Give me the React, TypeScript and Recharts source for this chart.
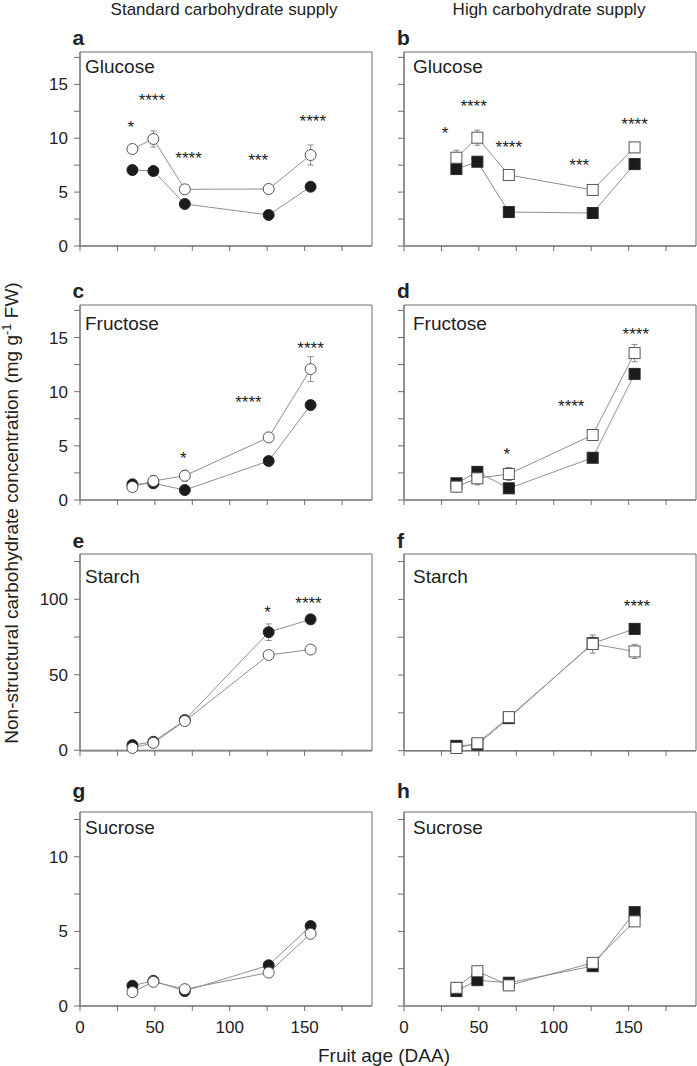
import { ComposedChart, Line, Scatter, XAxis, YAxis, ErrorBar, ReferenceArea } from "recharts";

const FONT = "'Liberation Sans', Arial, Helvetica, sans-serif";

// fruit age (DAA) of the five harvests
const days = [35, 49, 70, 126, 154];

const xTicks = [0, 25, 50, 75, 100, 125, 150, 175];
const sugarTicks = [0, 2.5, 5, 7.5, 10, 12.5, 15, 17.5];
const starchTicks = [0, 25, 50, 75, 100, 125];
const sucroseTicks = [0, 2.5, 5, 7.5, 10, 12.5];

// glucose
const glcStdFilled = [7.05, 6.96, 3.9, 2.88, 5.5];
const glcStdFilledErr = [0.2, 0.2, 0.2, 0.2, 0.25];
const glcStdOpen = [9.0, 9.93, 5.26, 5.29, 8.44];
const glcStdOpenErr = [0.3, 0.75, 0.35, 0.3, 0.93];
const glcHighFilled = [7.14, 7.82, 3.15, 3.06, 7.6];
const glcHighFilledErr = [0.2, 0.2, 0.15, 0.15, 0.25];
const glcHighOpen = [8.19, 10.05, 6.59, 5.2, 9.15];
const glcHighOpenErr = [0.7, 0.7, 0.3, 0.3, 0.4];

// fructose
const fruStdFilled = [1.45, 1.54, 0.92, 3.6, 8.76];
const fruStdFilledErr = [0.15, 0.15, 0.1, 0.2, 0.3];
const fruStdOpen = [1.2, 1.75, 2.24, 5.78, 12.08];
const fruStdOpenErr = [0.4, 0.5, 0.5, 0.3, 1.15];
const fruHighFilled = [1.54, 2.6, 1.08, 3.9, 11.64];
const fruHighFilledErr = [0.15, 0.2, 0.1, 0.2, 0.4];
const fruHighOpen = [1.23, 2.0, 2.4, 6.0, 13.56];
const fruHighOpenErr = [0.5, 0.6, 0.6, 0.4, 0.8];

// starch
const staStdFilled = [3.4, 5.6, 20, 78.2, 86.7];
const staStdFilledErr = [1, 1, 1.5, 5.5, 2.5];
const staStdOpen = [1.5, 4.9, 19.3, 63.1, 66.7];
const staStdOpenErr = [2, 2, 2.5, 2, 2.5];
const staHighFilled = [3.2, 4.0, 21.5, 71, 80.5];
const staHighFilledErr = [1, 1, 1.5, 4, 2];
const staHighOpen = [1.8, 4.9, 22.2, 70.5, 65.6];
const staHighOpenErr = [2, 3, 3, 6, 4.7];

// sucrose
const sucStdFilled = [1.36, 1.69, 1.0, 2.73, 5.36];
const sucStdFilledErr = [0.1, 0.1, 0.1, 0.15, 0.15];
const sucStdOpen = [0.93, 1.62, 1.13, 2.24, 4.84];
const sucStdOpenErr = [0.25, 0.25, 0.25, 0.2, 0.25];
const sucHighFilled = [1.0, 1.73, 1.56, 2.67, 6.29];
const sucHighFilledErr = [0.1, 0.1, 0.1, 0.15, 0.2];
const sucHighOpen = [1.22, 2.33, 1.38, 2.89, 5.67];
const sucHighOpenErr = [0.35, 0.3, 0.25, 0.25, 0.3];

// significance marks: [DAA, value, text]
const glcStdStars = [[34, 11.4, "*"], [48, 13.85, "****"], [72.5, 8.5, "****"], [119, 8.35, "***"], [155.5, 11.95, "****"]];
const glcHighStars = [[27.5, 10.85, "*"], [46.5, 13.35, "****"], [70, 9.55, "****"], [117, 7.9, "***"], [154, 11.65, "****"]];
const fruStdStars = [[69, 4.24, "*"], [112.5, 9.38, "****"], [154, 14.36, "****"]];
const fruHighStars = [[68.7, 4.62, "*"], [111.7, 9.03, "****"], [154.8, 15.7, "****"]];
const staStdStars = [[125.3, 93.8, "*"], [152.6, 99.8, "****"]];
const staHighStars = [[155.6, 98.3, "****"]];
const sucStdStars: any[] = [];
const sucHighStars: any[] = [];

type PanelDef = {
  name: string;
  letter: string;
  square: boolean;
  filled: number[];
  filledErr: number[];
  open: number[];
  openErr: number[];
  stars: any[];
  yMax: number;
  yTicks: number[];
  major: number;
};

const rows: PanelDef[][] = [
  [
    { name: "Glucose", letter: "a", square: false, filled: glcStdFilled, filledErr: glcStdFilledErr, open: glcStdOpen, openErr: glcStdOpenErr, stars: glcStdStars, yMax: 18, yTicks: sugarTicks, major: 5 },
    { name: "Glucose", letter: "b", square: true, filled: glcHighFilled, filledErr: glcHighFilledErr, open: glcHighOpen, openErr: glcHighOpenErr, stars: glcHighStars, yMax: 18, yTicks: sugarTicks, major: 5 },
  ],
  [
    { name: "Fructose", letter: "c", square: false, filled: fruStdFilled, filledErr: fruStdFilledErr, open: fruStdOpen, openErr: fruStdOpenErr, stars: fruStdStars, yMax: 18, yTicks: sugarTicks, major: 5 },
    { name: "Fructose", letter: "d", square: true, filled: fruHighFilled, filledErr: fruHighFilledErr, open: fruHighOpen, openErr: fruHighOpenErr, stars: fruHighStars, yMax: 18, yTicks: sugarTicks, major: 5 },
  ],
  [
    { name: "Starch", letter: "e", square: false, filled: staStdFilled, filledErr: staStdFilledErr, open: staStdOpen, openErr: staStdOpenErr, stars: staStdStars, yMax: 130, yTicks: starchTicks, major: 50 },
    { name: "Starch", letter: "f", square: true, filled: staHighFilled, filledErr: staHighFilledErr, open: staHighOpen, openErr: staHighOpenErr, stars: staHighStars, yMax: 130, yTicks: starchTicks, major: 50 },
  ],
  [
    { name: "Sucrose", letter: "g", square: false, filled: sucStdFilled, filledErr: sucStdFilledErr, open: sucStdOpen, openErr: sucStdOpenErr, stars: sucStdStars, yMax: 13, yTicks: sucroseTicks, major: 5 },
    { name: "Sucrose", letter: "h", square: true, filled: sucHighFilled, filledErr: sucHighFilledErr, open: sucHighOpen, openErr: sucHighOpenErr, stars: sucHighStars, yMax: 13, yTicks: sucroseTicks, major: 5 },
  ],
];

const rowTops = [52, 305, 554, 812];
const rowHeights = [194, 195, 197, 194];
const nameOffsets = [20.5, 24.5, 28.5, 22];
const colLefts = [0, 324];
const nameInset = [5, 9];

const AXIS = "#6e6e6e";
const LINE = "#8f8f8f";

function marker(square: boolean, filled: boolean) {
  return (props: any) => {
    const { cx, cy } = props;
    if (cx == null || cy == null) return <g />;
    const fill = filled ? "#1b1b1b" : "#ffffff";
    const stroke = filled ? "#2a2a2a" : "#555555";
    if (square) {
      return <rect x={cx - 5.5} y={cy - 5.5} width={11} height={11} fill={fill} stroke={stroke} strokeWidth={1} />;
    }
    return <circle cx={cx} cy={cy} r={5.5} fill={fill} stroke={stroke} strokeWidth={1} />;
  };
}

const starShape = (props: any) => {
  if (props.cx == null) return <g />;
  return (
    <text x={props.cx} y={props.cy} dy="0.57em" textAnchor="middle" fontSize={17} fontFamily={FONT} fill="#222">
      {props.payload.t}
    </text>
  );
};

const emptyShape = () => <g />;

function Panel({ p, row, col }: { p: PanelDef; row: number; col: number }) {
  const data = days.map((d, i) => ({ x: d, f: p.filled[i], fe: p.filledErr[i], o: p.open[i], oe: p.openErr[i] }));
  const starData = p.stars.map((s) => ({ x: s[0], y: s[1], t: s[2] }));
  const bottomRow = row === 3;
  const leftCol = col === 0;
  const h = rowHeights[row];
  return (
    <div style={{ position: "absolute", left: colLefts[col], top: rowTops[row] - 2 }}>
      <ComposedChart width={373} height={h + 32} margin={{ top: 2, right: 1, left: 0, bottom: 0 }}>
        <XAxis
          type="number"
          dataKey="x"
          domain={[0, 195]}
          ticks={xTicks}
          interval={0}
          height={30}
          tickSize={5}
          tickMargin={10}
          axisLine={{ stroke: AXIS }}
          tickLine={{ stroke: AXIS }}
          tick={{ fill: "#222", fontSize: 17, fontFamily: FONT }}
          tickFormatter={(v: number) => (bottomRow && v % 50 === 0 ? String(v) : "")}
        />
        <YAxis
          type="number"
          domain={[0, p.yMax]}
          ticks={p.yTicks}
          interval={0}
          width={80}
          tickSize={6}
          tickMargin={6}
          axisLine={{ stroke: AXIS }}
          tickLine={{ stroke: AXIS }}
          tick={{ fill: "#222", fontSize: 17, fontFamily: FONT }}
          tickFormatter={(v: number) => (leftCol && v % p.major === 0 ? String(v) : "")}
        />
        <ReferenceArea
          x1={0}
          x2={195}
          y1={0}
          y2={p.yMax}
          fill="none"
          stroke={AXIS}
          strokeWidth={1}
          label={(lp: any) => (
            <text
              x={lp.viewBox.x + nameInset[col]}
              y={lp.viewBox.y + nameOffsets[row]}
              fontSize={19}
              fontFamily={FONT}
              fill="#222"
            >
              {p.name}
            </text>
          )}
        />
        <Line data={data} dataKey="f" type="linear" stroke={LINE} strokeWidth={1} dot={false} activeDot={false} isAnimationActive={false} />
        <Line data={data} dataKey="o" type="linear" stroke={LINE} strokeWidth={1} dot={false} activeDot={false} isAnimationActive={false} />
        <Scatter data={data} dataKey="f" shape={marker(p.square, true)} isAnimationActive={false}>
          <ErrorBar dataKey="fe" direction="y" width={3} stroke="#8a8a8a" strokeWidth={1} />
        </Scatter>
        <Scatter data={data} dataKey="o" shape={marker(p.square, false)} isAnimationActive={false} />
        <Scatter data={data} dataKey="o" shape={emptyShape} isAnimationActive={false}>
          <ErrorBar dataKey="oe" direction="y" width={3} stroke="#8a8a8a" strokeWidth={1} />
        </Scatter>
        <Scatter data={starData} dataKey="y" shape={starShape} isAnimationActive={false} />
      </ComposedChart>
    </div>
  );
}

const letterPos = [
  [72.5, 45],
  [397, 45],
  [72.5, 298],
  [397, 298],
  [72.5, 548],
  [397, 548],
  [72.5, 798],
  [397, 798],
];

export default function App() {
  return (
    <div style={{ position: "relative", width: 697, height: 1066, overflow: "hidden", background: "#fff" }}>
      <style>{"body{margin:0}"}</style>
      {rows.map((r, ri) => r.map((p, ci) => <Panel key={p.letter} p={p} row={ri} col={ci} />))}
      <svg width={697} height={1066} style={{ position: "absolute", left: 0, top: 0, pointerEvents: "none" }}>
        <g fontFamily={FONT} fill="#222">
          <text x={224} y={15} fontSize={17} textAnchor="middle">Standard carbohydrate supply</text>
          <text x={549} y={15} fontSize={17} textAnchor="middle">High carbohydrate supply</text>
          {rows.flat().map((p, i) => (
            <text key={p.letter} x={letterPos[i][0]} y={letterPos[i][1]} fontSize={21} fontWeight="bold">
              {p.letter}
            </text>
          ))}
          <text transform="translate(18,513) rotate(-90)" fontSize={19} textAnchor="middle">
            Non-structural carbohydrate concentration (mg g<tspan fontSize={13} dy={-7}>-1</tspan>
            <tspan dy={7}> FW)</tspan>
          </text>
          <text x={384} y={1062} fontSize={19} textAnchor="middle">Fruit age (DAA)</text>
        </g>
      </svg>
    </div>
  );
}
